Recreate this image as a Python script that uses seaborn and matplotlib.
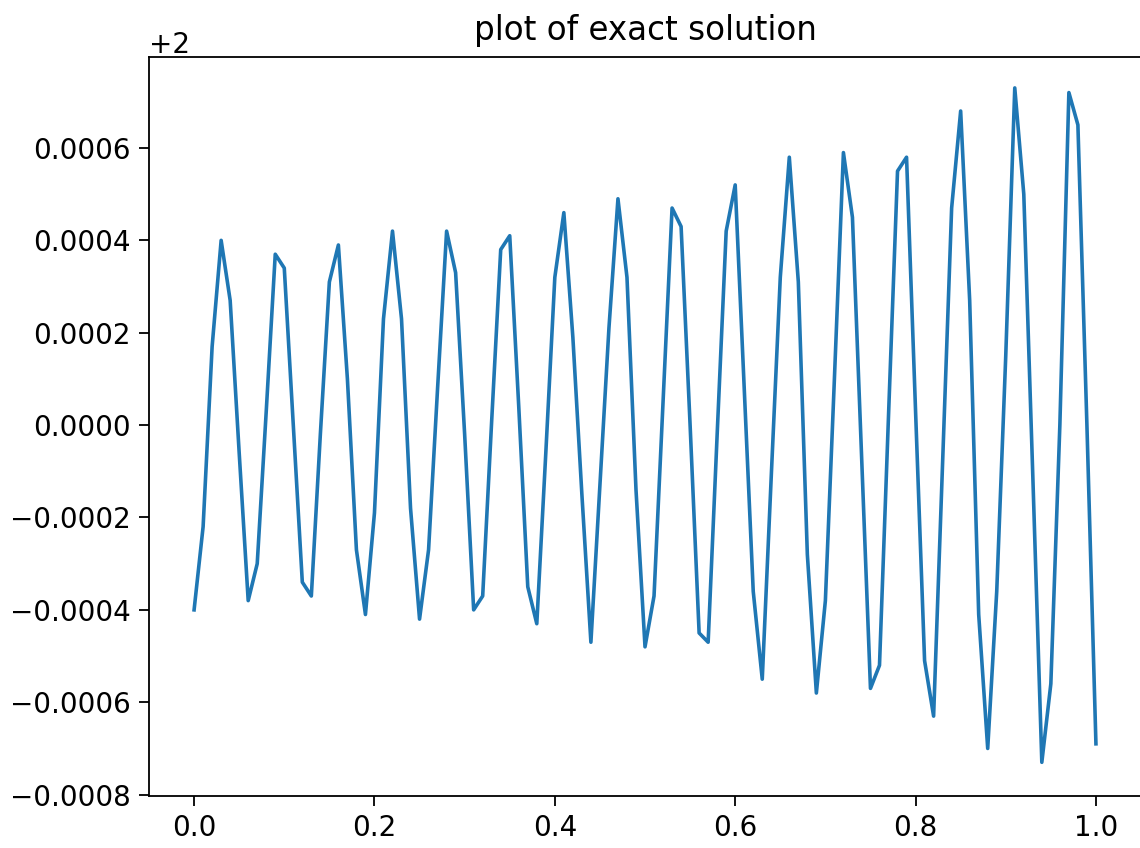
import matplotlib
matplotlib.use("Agg")
import matplotlib.pyplot as plt
import seaborn as sns
import pandas as pd
import numpy as np

# x grid: 0.00 .. 1.00 step 0.01 (101 samples)
x_values = [round(i * 0.01, 2) for i in range(101)]

# deviation from 2 (value = 2 + deviation)
deviation = [
    -0.00040, -0.00022, 0.00017, 0.00040, 0.00027, -0.00006, -0.00038, -0.00030, 0.00003, 0.00037,
    0.00034, 0.00000, -0.00034, -0.00037, -0.00002, 0.00031, 0.00039, 0.00010, -0.00027, -0.00041,
    -0.00019, 0.00023, 0.00042, 0.00023, -0.00018, -0.00042, -0.00027, 0.00008, 0.00042, 0.00033,
    -0.00002, -0.00040, -0.00037, 0.00001, 0.00038, 0.00041, 0.00004, -0.00035, -0.00043, -0.00006,
    0.00032, 0.00046, 0.00019, -0.00015, -0.00047, -0.00013, 0.00021, 0.00049, 0.00032, -0.00014,
    -0.00048, -0.00037, 0.00005, 0.00047, 0.00043, 0.00000, -0.00045, -0.00047, -0.00002, 0.00042,
    0.00052, 0.00008, -0.00036, -0.00055, -0.00011, 0.00032, 0.00058, 0.00031, -0.00028, -0.00058,
    -0.00038, 0.00010, 0.00059, 0.00045, -0.00006, -0.00057, -0.00052, 0.00002, 0.00055, 0.00058,
    0.00003, -0.00051, -0.00063, -0.00008, 0.00047, 0.00068, 0.00027, -0.00041, -0.00070, -0.00036,
    0.00015, 0.00073, 0.00050, -0.00011, -0.00073, -0.00056, 0.00000, 0.00072, 0.00065, 0.00000,
    -0.00069,
]
base_value = 2.0

title_text = "plot of exact solution"

df = pd.DataFrame({"x": x_values, "y": [base_value + d for d in deviation]})

plt.rcParams["font.family"] = ["DejaVu Sans"]
fig = plt.figure(figsize=(11.4, 8.48), dpi=100)
ax = fig.add_axes([0.1307, 0.0613, 0.8702, 0.8715])

sns.lineplot(data=df, x="x", y="y", ax=ax, color="#1f77b4", linewidth=2.6)

ax.set_xlabel("")
ax.set_ylabel("")
ax.set_title(title_text, fontsize=23.5, pad=12)
ax.tick_params(axis="both", labelsize=20, length=7, width=1.3, pad=6)
for s in ax.spines.values():
    s.set_linewidth(1.3)
ax.yaxis.get_offset_text().set_fontsize(20)
ax.set_xticks([0.0, 0.2, 0.4, 0.6, 0.8, 1.0])
ax.set_xlim(-0.05, 1.05)
ax.set_ylim(base_value - 0.000803, base_value + 0.000797)

fig.savefig("out.png", dpi=100)
